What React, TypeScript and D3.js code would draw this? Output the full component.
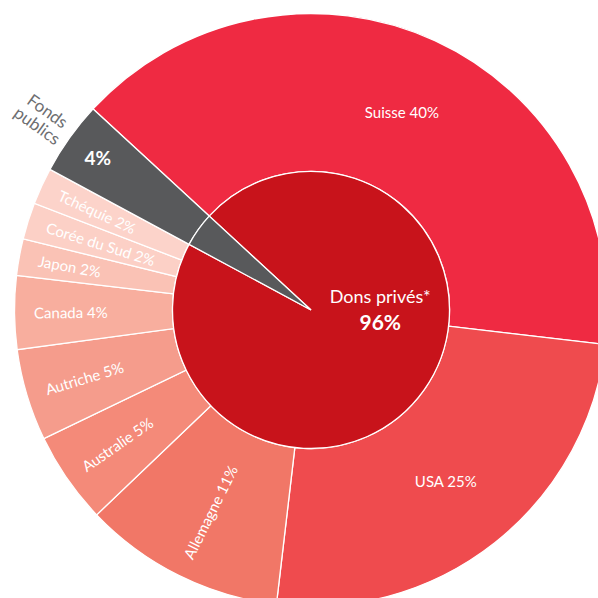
import React, { useEffect, useRef } from "react";
import * as d3 from "d3";

const countries = ["Suisse", "USA", "Allemagne", "Australie", "Autriche", "Canada", "Japon", "Corée du Sud", "Tchéquie", "Fonds publics"];
const shares = [40, 25, 11, 5, 5, 4, 2, 2, 2, 4];
const ringColors = ["#ef2a42", "#ef4b4e", "#f17767", "#f48a79", "#f59c8c", "#f8ae9e", "#fac2b5", "#fcd0c6", "#fcd3ca", "#58595b"];

const groups = ["Dons privés*", "Fonds publics"];
const groupShares = [96, 4];
const groupColors = ["#c8131b", "#58595b"];

const W = 598, H = 598;
const cx = 311, cy = 310;
const rIn = 138.5, rOut = 296.5;
const start = (-47.3 * Math.PI) / 180;

type Item = { name: string, value: number, color: string };

const App = () => {
    const ref = useRef<SVGSVGElement | null>(null);

    useEffect(() => {
        const svg = d3.select(ref.current!);
        svg.selectAll("*").remove();
        const g = svg.append("g").attr("transform", `translate(${cx},${cy})`);

        const pie = d3.pie<Item>().sort(null).value(d => d.value)
            .startAngle(start).endAngle(start + 2 * Math.PI);

        const outer: Item[] = countries.map((c, i) => ({ name: c, value: shares[i], color: ringColors[i] }));
        const inner: Item[] = groups.map((c, i) => ({ name: c, value: groupShares[i], color: groupColors[i] }));

        const outerArcs = pie(outer);
        const innerArcs = pie(inner);

        const arcOut = d3.arc<d3.PieArcDatum<Item>>().innerRadius(rIn).outerRadius(rOut);
        const arcIn = d3.arc<d3.PieArcDatum<Item>>().innerRadius(0).outerRadius(rIn);

        g.selectAll("path.o").data(outerArcs).enter().append("path")
            .attr("d", arcOut).attr("fill", d => d.data.color)
            .attr("stroke", "#fff").attr("stroke-width", 1.3);

        g.selectAll("path.i").data(innerArcs).enter().append("path")
            .attr("d", arcIn).attr("fill", d => d.data.color)
            .attr("stroke", "#fff").attr("stroke-width", 1.3);

        const font = "Lato, 'Open Sans', sans-serif";
        const deg = (a: number) => (a * 180) / Math.PI;

        // ring labels
        outerArcs.forEach((d, i) => {
            const mid = (d.startAngle + d.endAngle) / 2;
            const label = `${d.data.name} ${d.data.value}%`;
            if (d.data.name === "Fonds publics") {
                const r = 262;
                g.append("text")
                    .attr("x", r * Math.sin(mid)).attr("y", -r * Math.cos(mid))
                    .attr("text-anchor", "middle").attr("dominant-baseline", "central")
                    .attr("font-family", font).attr("font-weight", 700).attr("font-size", 19)
                    .attr("fill", "#fff").text(`${d.data.value}%`);
                const r2 = 330;
                const t = g.append("text")
                    .attr("transform", `translate(${r2 * Math.sin(mid)},${-r2 * Math.cos(mid)}) rotate(${deg(mid) - 270})`)
                    .attr("text-anchor", "middle")
                    .attr("font-family", font).attr("font-size", 17).attr("fill", "#6d6e71");
                t.append("tspan").attr("x", 0).attr("y", -3).text("Fonds");
                t.append("tspan").attr("x", 0).attr("y", 15).text("publics");
            } else if (i < 2) {
                const [x, y] = arcOut.centroid(d);
                g.append("text").attr("x", x).attr("y", y)
                    .attr("text-anchor", "middle").attr("dominant-baseline", "central")
                    .attr("font-family", font).attr("font-size", 15).attr("fill", "#fff").text(label);
            } else {
                const r = 277;
                g.append("text")
                    .attr("transform", `translate(${r * Math.sin(mid)},${-r * Math.cos(mid)}) rotate(${deg(mid) - 270})`)
                    .attr("text-anchor", "start").attr("dominant-baseline", "central")
                    .attr("font-family", font).attr("font-size", 15).attr("fill", "#fff").text(label);
            }
        });

        // centre label
        const c = g.append("text").attr("text-anchor", "middle").attr("fill", "#fff").attr("font-family", font);
        c.append("tspan").attr("x", rIn * 0.5).attr("y", -7).attr("font-size", 18).text(groups[0]);
        c.append("tspan").attr("x", rIn * 0.5).attr("y", 20).attr("font-size", 21).attr("font-weight", 700).text(`${groupShares[0]}%`);
    }, []);

    return <svg ref={ref} width={W} height={H} style={{ position: "absolute", left: 0, top: 0, background: "#fff" }} />;
};

export default App;
